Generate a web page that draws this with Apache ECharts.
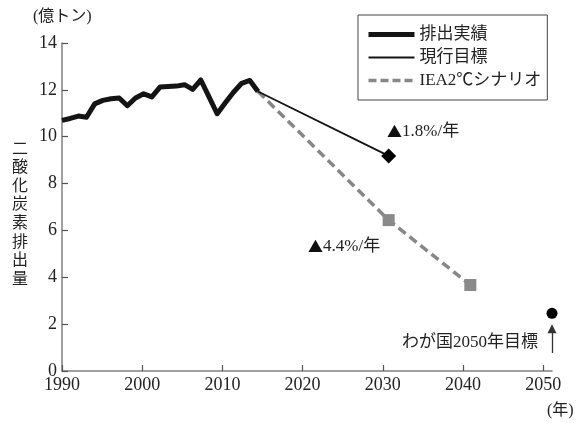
<!DOCTYPE html>
<html>
<head>
<meta charset="utf-8">
<script src="https://cdn.jsdelivr.net/npm/echarts@6/dist/echarts.min.js"></script>
<style>html,body{margin:0;padding:0;background:#fff}#c{width:587px;height:423px}</style>
</head>
<body>
<div id="c"></div>
<script>
// ---- data ----
const histYears = [1990,1991,1992,1993,1994,1995,1996,1997,1998,1999,2000,2001,2002,2003,2004,2005,2006,2007,2008,2009,2010,2011,2012,2013,2014];
const histValues = [10.70,10.78,10.88,10.83,11.40,11.55,11.62,11.65,11.32,11.65,11.83,11.70,12.12,12.14,12.16,12.22,12.02,12.42,11.70,10.98,11.45,11.90,12.28,12.40,11.93];
const targetYears = [2014, 2030];
const targetValues = [11.93, 9.18];
const ieaYears = [2014, 2030, 2040];
const ieaValues = [11.93, 6.44, 3.67];
const goal2050 = [2050, 2.46];
const xTickLabels = [1990,2000,2010,2020,2030,2040,2050];
const yTicks = [0,2,4,6,8,10,12,14];
const seriesNames = ['排出実績','現行目標','IEA2℃シナリオ'];

const FONT = "'Liberation Serif','Noto Sans CJK JP',serif";
const CJK = "'Noto Sans CJK JP',sans-serif";
const TXT = '#222';
const zip = (a,b) => a.map((v,i)=>[v,b[i]]);

const chart = echarts.init(document.getElementById('c'), null, {renderer:'canvas'});
chart.setOption({
  animation:false,
  backgroundColor:'#fff',
  grid:{left:62, top:43, right:35, bottom:52},
  xAxis:[{
    type:'value', min:1990, max:2051.1,
    axisLine:{lineStyle:{color:'#808080', width:1.5}},
    axisTick:{inside:true, length:6, customValues:xTickLabels, lineStyle:{color:'#555', width:1.2}},
    axisLabel:{customValues:xTickLabels, formatter:v=>String(v), color:TXT, fontFamily:FONT, fontSize:18, margin:5},
    splitLine:{show:false}
  },{
    type:'value', min:1990, max:2050, show:false
  }],
  yAxis:{
    type:'value', min:0, max:14, interval:2,
    axisLine:{show:true, lineStyle:{color:'#808080', width:1.5}},
    axisTick:{show:true, inside:true, length:6, lineStyle:{color:'#555', width:1.2}},
    axisLabel:{color:TXT, fontFamily:FONT, fontSize:18, margin:5},
    splitLine:{show:false}
  },
  legend:{
    data:[
      {name:seriesNames[0], lineStyle:{width:5, color:'#141414'}},
      {name:seriesNames[1], lineStyle:{width:1.8, color:'#141414'}},
      {name:seriesNames[2], lineStyle:{width:3.5, color:'#878787', type:[8,4]}}
    ],
    orient:'vertical', left:358, top:15,
    padding:[11,6,11,8], itemGap:6, itemWidth:46, itemHeight:16,
    borderColor:'#444', borderWidth:1,
    itemStyle:{color:'rgba(0,0,0,0)', borderColor:'rgba(0,0,0,0)', borderWidth:0, opacity:0},
    textStyle:{color:TXT, fontFamily:FONT, fontSize:17, width:140, overflow:'none'}
  },
  series:[
    {name:seriesNames[0], type:'line', xAxisIndex:1, data:zip(histYears,histValues), symbol:'none',
     itemStyle:{color:'#141414'}, lineStyle:{color:'#141414', width:5, join:'round'}, z:4},
    {name:seriesNames[1], type:'line', xAxisIndex:1, data:zip(targetYears,targetValues), symbol:'none',
     itemStyle:{color:'#141414'}, lineStyle:{color:'#141414', width:1.8}, z:3},
    {name:seriesNames[2], type:'line', xAxisIndex:1, data:zip(ieaYears,ieaValues), symbol:'none',
     itemStyle:{color:'#878787'}, lineStyle:{color:'#878787', width:3.5, type:[9,5]}, z:2},
    {type:'scatter', xAxisIndex:1, data:[[targetYears[1],targetValues[1]]], symbol:'diamond', symbolSize:15,
     itemStyle:{color:'#000', opacity:1}, z:5, clip:false},
    {type:'scatter', xAxisIndex:1, data:[[ieaYears[1],ieaValues[1]],[ieaYears[2],ieaValues[2]]], symbol:'rect', symbolSize:12,
     itemStyle:{color:'#8a8a8a', opacity:1}, z:5, clip:false},
    {type:'scatter', xAxisIndex:1, data:[goal2050], symbol:'circle', symbolSize:11,
     itemStyle:{color:'#000', opacity:1}, z:5, clip:false,
     markLine:{silent:true, symbol:['none','triangle'], symbolSize:9,
       label:{show:false}, lineStyle:{color:'#333', width:1.3, type:'solid', opacity:1},
       itemStyle:{color:'#222'},
       data:[[{coord:[2050,0.77]},{coord:[2050,1.80]}]]}}
  ],
  graphic:[
    {type:'text', left:33, top:9, style:{text:'(億トン)', font:"16px "+FONT, fill:TXT}},
    {type:'text', left:12, top:140, style:{text:'二\n酸\n化\n炭\n素\n排\n出\n量', font:"16px "+FONT, fill:TXT, lineHeight:18.6}},
    {type:'text', left:387, top:123, style:{text:'{t|▲}1.8%/年', font:"17px "+FONT, fill:TXT,
      rich:{t:{fontFamily:CJK, fontSize:15, fill:'#111'}}}},
    {type:'text', left:308, top:238, style:{text:'{t|▲}4.4%/年', font:"17px "+FONT, fill:TXT,
      rich:{t:{fontFamily:CJK, fontSize:15, fill:'#111'}}}},
    {type:'text', right:49, top:334, style:{text:'わが国2050年目標', font:"17px "+FONT, fill:TXT}},
    {type:'text', left:547, top:403, style:{text:'(年)', font:"16px "+FONT, fill:TXT}}
  ]
});
</script>
</body>
</html>
